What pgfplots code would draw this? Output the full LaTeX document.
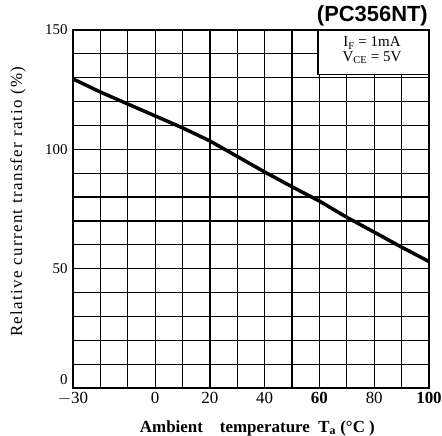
\documentclass[border=0pt]{standalone}
\usepackage{fontspec}
\setmainfont{Liberation Serif}
\newfontfamily\titlefont{Liberation Sans}
\newfontfamily\wideserif[LetterSpace=8]{Liberation Serif}
\usepackage{pgfplots}
\pgfplotsset{compat=1.18}
\begin{document}
\begin{tikzpicture}
\path[use as bounding box] (-73bp,-48bp) rectangle (369bp,388bp);
\begin{axis}[
  at={(0,0)}, anchor=south west,
  scale only axis,
  width=356bp, height=358bp,
  xmin=-30, xmax=100, ymin=0, ymax=150,
  xtick={-30,0,20,40,60,80,100},
  xticklabels={$-$30,0,20,40,{\bfseries 60},80,{\bfseries 100}},
  minor xtick={-30,-20,...,100},
  ytick={50,100,150},
  yticklabels={50,{\raisebox{-6bp}{100}},150},
  extra y ticks={0},
  extra y tick labels={0},
  extra y tick style={yticklabel style={yshift=8bp}},
  minor ytick={0,10,...,150},
  grid=minor,
  minor grid style={black, line width=1.2bp},
  major tick length=0pt, minor tick length=0pt,
  axis line style={black, line width=1.8bp},
  /pgf/number format/assume math mode=true,
  xticklabel style={font=\fontsize{17}{17}\selectfont, yshift=-1bp},
  yticklabel style={font=\fontsize{15}{15}\selectfont, xshift=-2bp},
  xlabel={\bfseries Ambient\quad temperature\enspace T\textsubscript{a} (\textdegree C )},
  xlabel style={at={(axis description cs:0.518,-0.112)}, anchor=center, font=\fontsize{17}{17}\selectfont},
  ylabel={\wideserif Relative current transfer ratio (\%)},
  ylabel style={at={(axis description cs:-0.1545,0.52)}, anchor=center, rotate=0, font=\fontsize{17}{17}\selectfont},
  clip=false,
]
\addplot[black, line width=3.5bp] coordinates {
(-30,129.5) (-20,124) (-10,119) (0,114) (10,109) (20,103.5) (30,97)
(40,90.5) (50,84.3) (60,78.3) (70,71.5) (80,65.3) (90,59) (100,53)
};
\draw[black, line width=1.2bp, fill=white] (axis cs:59.5,131.4) rectangle (axis cs:100,150);
\draw[black, line width=1.8bp] (axis cs:100,131.4) -- (axis cs:100,150) -- (axis cs:59.5,150);
\end{axis}
\node[font=\fontsize{15}{15}\selectfont] at (299bp,345bp) {I\textsubscript{F} = 1mA};
\node[font=\fontsize{15}{15}\selectfont] at (299bp,330bp) {V\textsubscript{CE} = 5V};
\node[anchor=east, font=\titlefont\bfseries\fontsize{22}{22}\selectfont, inner sep=0pt] at (355bp,372bp) {(PC356NT)};
\end{tikzpicture}
\end{document}
